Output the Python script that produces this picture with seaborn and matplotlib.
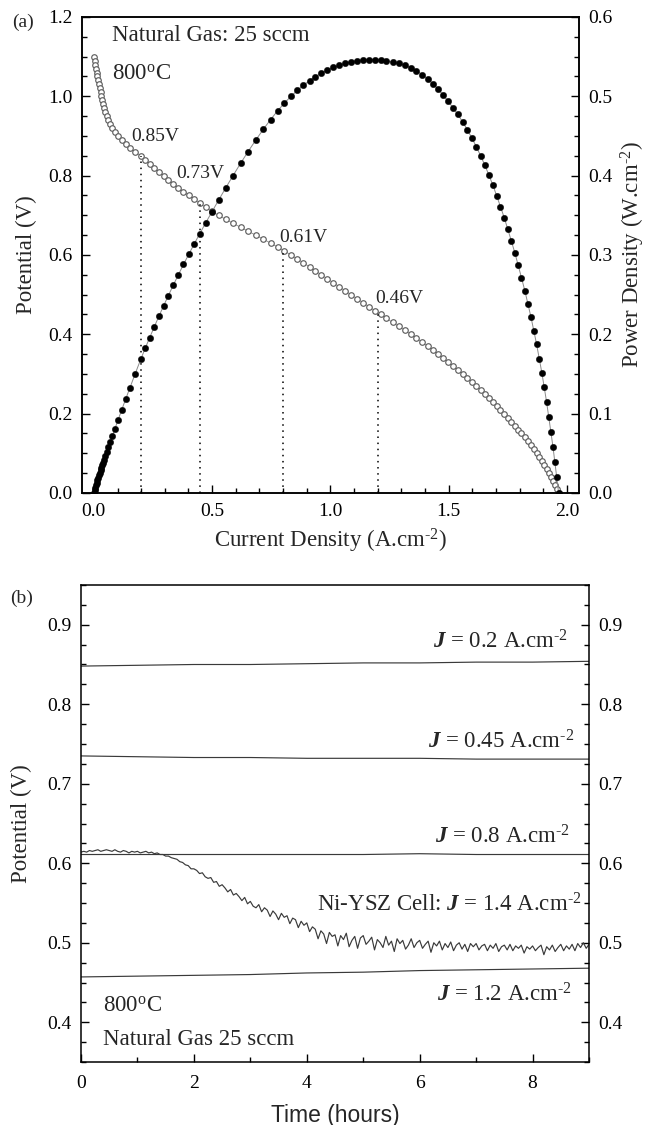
import matplotlib
matplotlib.use("Agg")
import numpy as np
import matplotlib.pyplot as plt
from matplotlib.ticker import MultipleLocator, FormatStrFormatter
import seaborn as sns

# ---- panel (a): I-V curve, potential stepped down, current read at each step
potential = [
    1.10, 1.09, 1.08, 1.07, 1.06, 1.05, 1.04, 1.03, 1.02, 1.01,
    1.00, 0.99, 0.98, 0.97, 0.96, 0.95, 0.94, 0.93, 0.92, 0.91,
    0.90, 0.89, 0.88, 0.87, 0.86, 0.85, 0.84, 0.83, 0.82, 0.81,
    0.80, 0.79, 0.78, 0.77, 0.76, 0.75, 0.74, 0.73, 0.72, 0.71,
    0.70, 0.69, 0.68, 0.67, 0.66, 0.65, 0.64, 0.63, 0.62, 0.61,
    0.60, 0.59, 0.58, 0.57, 0.56, 0.55, 0.54, 0.53, 0.52, 0.51,
    0.50, 0.49, 0.48, 0.47, 0.46, 0.45, 0.44, 0.43, 0.42, 0.41,
    0.40, 0.39, 0.38, 0.37, 0.36, 0.35, 0.34, 0.33, 0.32, 0.31,
    0.30, 0.29, 0.28, 0.27, 0.26, 0.25, 0.24, 0.23, 0.22, 0.21,
    0.20, 0.19, 0.18, 0.17, 0.16, 0.15, 0.14, 0.13, 0.12, 0.11,
    0.10, 0.09, 0.08, 0.07, 0.06, 0.05, 0.04, 0.03, 0.02, 0.01,
    0.00,
]
current_density = [
    0.000, 0.003, 0.006, 0.009, 0.012, 0.015, 0.018, 0.022, 0.025, 0.029,
    0.032, 0.035, 0.039, 0.043, 0.048, 0.054, 0.061, 0.069, 0.078, 0.089,
    0.102, 0.117, 0.134, 0.152, 0.175, 0.198, 0.217, 0.236, 0.255, 0.275,
    0.295, 0.315, 0.336, 0.357, 0.379, 0.401, 0.424, 0.448, 0.473, 0.499,
    0.527, 0.557, 0.588, 0.620, 0.652, 0.684, 0.716, 0.747, 0.777, 0.806,
    0.833, 0.860, 0.886, 0.912, 0.937, 0.962, 0.987, 1.012, 1.037, 1.062,
    1.087, 1.112, 1.137, 1.162, 1.187, 1.212, 1.237, 1.263, 1.289, 1.315,
    1.340, 1.364, 1.388, 1.411, 1.433, 1.455, 1.476, 1.497, 1.518, 1.539,
    1.559, 1.579, 1.598, 1.617, 1.635, 1.653, 1.670, 1.687, 1.703, 1.719,
    1.735, 1.750, 1.765, 1.780, 1.794, 1.808, 1.822, 1.835, 1.848, 1.860,
    1.872, 1.883, 1.894, 1.904, 1.914, 1.923, 1.932, 1.941, 1.949, 1.957,
    1.965,
]
# power density P = J * V
power_density = np.array(current_density) * np.array(potential)

marked_current = [0.2, 0.45, 0.8, 1.2]
marked_potential = [0.85, 0.73, 0.61, 0.46]
marked_labels = ["0.85V", "0.73V", "0.61V", "0.46V"]
label_offsets = [(-10, 15), (-24, 25), (-4, 9), (-2, 8)]  # pixels

# ---- panel (b): potential vs time at fixed current density
flat_hours = [0, 1, 2, 3, 4, 5, 6, 7, 8, 9]
v_j02 = [0.848, 0.849, 0.850, 0.850, 0.851, 0.852, 0.852, 0.853, 0.853, 0.854]
v_j045 = [0.735, 0.734, 0.733, 0.733, 0.732, 0.732, 0.732, 0.731, 0.731, 0.731]
v_j08 = [0.611, 0.611, 0.611, 0.611, 0.611, 0.611, 0.612, 0.611, 0.611, 0.611]
v_j12 = [0.457, 0.458, 0.459, 0.460, 0.462, 0.463, 0.465, 0.466, 0.467, 0.468]

ni_hours = [
    0.00, 0.05, 0.10, 0.15, 0.20, 0.25, 0.30, 0.35, 0.40, 0.45,
    0.50, 0.55, 0.60, 0.65, 0.70, 0.75, 0.80, 0.85, 0.90, 0.95,
    1.00, 1.05, 1.10, 1.15, 1.20, 1.25, 1.30, 1.35, 1.40, 1.45,
    1.50, 1.55, 1.60, 1.65, 1.70, 1.75, 1.80, 1.85, 1.90, 1.95,
    2.00, 2.05, 2.10, 2.15, 2.20, 2.25, 2.30, 2.35, 2.40, 2.45,
    2.50, 2.55, 2.60, 2.65, 2.70, 2.75, 2.80, 2.85, 2.90, 2.95,
    3.00, 3.05, 3.10, 3.15, 3.20, 3.25, 3.30, 3.35, 3.40, 3.45,
    3.50, 3.55, 3.60, 3.65, 3.70, 3.75, 3.80, 3.85, 3.90, 3.95,
    4.00, 4.05, 4.10, 4.15, 4.20, 4.25, 4.30, 4.35, 4.40, 4.45,
    4.50, 4.55, 4.60, 4.65, 4.70, 4.75, 4.80, 4.85, 4.90, 4.95,
    5.00, 5.05, 5.10, 5.15, 5.20, 5.25, 5.30, 5.35, 5.40, 5.45,
    5.50, 5.55, 5.60, 5.65, 5.70, 5.75, 5.80, 5.85, 5.90, 5.95,
    6.00, 6.05, 6.10, 6.15, 6.20, 6.25, 6.30, 6.35, 6.40, 6.45,
    6.50, 6.55, 6.60, 6.65, 6.70, 6.75, 6.80, 6.85, 6.90, 6.95,
    7.00, 7.05, 7.10, 7.15, 7.20, 7.25, 7.30, 7.35, 7.40, 7.45,
    7.50, 7.55, 7.60, 7.65, 7.70, 7.75, 7.80, 7.85, 7.90, 7.95,
    8.00, 8.05, 8.10, 8.15, 8.20, 8.25, 8.30, 8.35, 8.40, 8.45,
    8.50, 8.55, 8.60, 8.65, 8.70, 8.75, 8.80, 8.85, 8.90, 8.95,
    9.00,
]
ni_ysz_v = [
    0.614, 0.615, 0.614, 0.616, 0.615, 0.616, 0.617, 0.615, 0.616, 0.617,
    0.616, 0.615, 0.617, 0.615, 0.614, 0.616, 0.615, 0.613, 0.615, 0.614,
    0.615, 0.613, 0.614, 0.615, 0.613, 0.614, 0.612, 0.613, 0.611, 0.611,
    0.609, 0.609, 0.607, 0.606, 0.605, 0.602, 0.601, 0.598, 0.597, 0.593,
    0.593, 0.591, 0.587, 0.588, 0.583, 0.581, 0.582, 0.576, 0.577, 0.571,
    0.573, 0.569, 0.564, 0.567, 0.560, 0.562, 0.558, 0.553, 0.557, 0.549,
    0.552, 0.546, 0.544, 0.548, 0.539, 0.544, 0.541, 0.533, 0.540, 0.536,
    0.529, 0.537, 0.532, 0.534, 0.524, 0.531, 0.529, 0.519, 0.527, 0.522,
    0.525, 0.514, 0.520, 0.517, 0.505, 0.515, 0.511, 0.499, 0.513, 0.508,
    0.510, 0.496, 0.509, 0.504, 0.512, 0.495, 0.503, 0.508, 0.493, 0.506,
    0.509, 0.498, 0.502, 0.507, 0.491, 0.504, 0.500, 0.494, 0.508, 0.497,
    0.502, 0.489, 0.505, 0.499, 0.503, 0.492, 0.497, 0.505, 0.494, 0.500,
    0.503, 0.493, 0.498, 0.502, 0.488, 0.500, 0.496, 0.502, 0.491, 0.499,
    0.494, 0.501, 0.490, 0.497, 0.500, 0.492, 0.498, 0.489, 0.499, 0.495,
    0.499, 0.491, 0.496, 0.498, 0.490, 0.497, 0.493, 0.499, 0.489, 0.495,
    0.497, 0.491, 0.498, 0.490, 0.496, 0.493, 0.497, 0.487, 0.495, 0.492,
    0.496, 0.490, 0.494, 0.497, 0.485, 0.495, 0.491, 0.497, 0.489, 0.494,
    0.498, 0.490, 0.496, 0.492, 0.498, 0.490, 0.499, 0.494, 0.500, 0.493,
    0.498,
]

sns.set_theme(style="ticks")
plt.rcParams["font.family"] = ["Liberation Serif", "DejaVu Serif"]
plt.rcParams["mathtext.fontset"] = "custom"
plt.rcParams["mathtext.rm"] = "Liberation Serif"
plt.rcParams["mathtext.it"] = "Liberation Serif:italic:bold"
plt.rcParams["mathtext.bf"] = "Liberation Serif:bold"
plt.rcParams["axes.linewidth"] = 1.1
plt.rcParams["xtick.direction"] = "in"
plt.rcParams["ytick.direction"] = "in"

TICK_FS = 14
LABEL_FS = 16.5
SUP = r"$^{\text{-}2}$"

fig = plt.figure(figsize=(6.51, 11.25), dpi=100)
ax = fig.add_axes([0.126, 0.5618, 0.763, 0.4231])
ax2 = ax.twinx()


def style_ticks(a, left=True, right=False, labelright=False):
    a.tick_params(which="both", direction="in", width=1.0, colors="black",
                  top=False, bottom=True, left=left, right=right,
                  labelleft=left, labelright=labelright, labelsize=TICK_FS)
    a.tick_params(which="major", length=6, pad=7)
    a.tick_params(which="minor", length=3.5)
    for s in a.spines.values():
        s.set_color("black")
        s.set_linewidth(1.1)


# potential (open circles)
sns.lineplot(x=current_density, y=potential, ax=ax, sort=False, estimator=None,
             color="#8a8a8a", linewidth=0.6, marker="o", markersize=4.0,
             markerfacecolor="white", markeredgecolor="#5f5f5f",
             markeredgewidth=0.85)
# power density (filled circles)
sns.lineplot(x=current_density, y=power_density, ax=ax2, sort=False,
             estimator=None, color="#8a8a8a", linewidth=0.7, marker="o",
             markersize=4.6, markerfacecolor="black", markeredgecolor="black",
             markeredgewidth=0.3)

ax.vlines(marked_current, 0, marked_potential, colors="black",
          linestyles=(0, (1, 3)), linewidth=1.1)
for xc, yv, lab, off in zip(marked_current, marked_potential, marked_labels,
                            label_offsets):
    ax.annotate(lab, (xc, yv), xytext=off, textcoords="offset pixels",
                ha="left", va="baseline", fontsize=14)

ax.set_xlim(-0.05, 2.05)
ax.set_ylim(0, 1.2)
ax2.set_ylim(0, 0.6)
ax.xaxis.set_major_locator(MultipleLocator(0.5))
ax.xaxis.set_minor_locator(MultipleLocator(0.1))
ax.yaxis.set_major_locator(MultipleLocator(0.2))
ax.yaxis.set_minor_locator(MultipleLocator(0.05))
ax2.yaxis.set_major_locator(MultipleLocator(0.1))
ax2.yaxis.set_minor_locator(MultipleLocator(0.025))
ax.xaxis.set_major_formatter(FormatStrFormatter("%.1f"))
ax.yaxis.set_major_formatter(FormatStrFormatter("%.1f"))
ax2.yaxis.set_major_formatter(FormatStrFormatter("%.1f"))
style_ticks(ax)
style_ticks(ax2, left=False, right=True, labelright=True)

ax.set_xlabel("Current Density (A.cm" + SUP + ")", fontsize=LABEL_FS,
              labelpad=5)
ax.set_ylabel("Potential (V)", fontsize=LABEL_FS, labelpad=8)
ax2.set_ylabel("Power Density (W.cm" + SUP + ")", fontsize=LABEL_FS,
               labelpad=4, rotation=90)
ax.text(0.060, 0.950, "Natural Gas: 25 sccm", transform=ax.transAxes,
        fontsize=LABEL_FS, va="baseline")
ax.text(0.060, 0.868, r"800$^{\mathrm{o}}$C", transform=ax.transAxes,
        fontsize=LABEL_FS, va="baseline")

# ---- panel (b)
bx = fig.add_axes([0.1244, 0.056, 0.7804, 0.424])
line_kw = dict(color="#3a3a3a", linewidth=0.85, sort=False, estimator=None)
for vals in (v_j02, v_j045, v_j08, v_j12):
    sns.lineplot(x=flat_hours, y=vals, ax=bx, **line_kw)
sns.lineplot(x=ni_hours, y=ni_ysz_v, ax=bx, **line_kw)

bx.set_xlim(0, 9)
bx.set_ylim(0.35, 0.95)
bx.xaxis.set_major_locator(MultipleLocator(2))
bx.xaxis.set_minor_locator(MultipleLocator(1))
bx.yaxis.set_major_locator(MultipleLocator(0.1))
bx.yaxis.set_minor_locator(MultipleLocator(0.025))
bx.yaxis.set_major_formatter(FormatStrFormatter("%.1f"))
style_ticks(bx, left=True, right=True, labelright=True)
bx.tick_params(axis="x", pad=9)

bx.set_xlabel("Time (hours)", fontsize=LABEL_FS, family="Liberation Sans",
              labelpad=9)
bx.set_ylabel("Potential (V)", fontsize=LABEL_FS, labelpad=11)

j_texts = [
    (0.959, 0.866, r"$J$ = 0.2 A.cm" + SUP),
    (0.972, 0.658, r"$J$ = 0.45 A.cm" + SUP),
    (0.963, 0.4585, r"$J$ = 0.8 A.cm" + SUP),
    (0.986, 0.315, r"Ni-YSZ Cell: $J$ = 1.4 A.cm" + SUP),
    (0.967, 0.126, r"$J$ = 1.2 A.cm" + SUP),
]
for tx, ty, s in j_texts:
    bx.text(tx, ty, s, transform=bx.transAxes, ha="right", va="baseline",
            fontsize=LABEL_FS)
bx.text(0.043, 0.105, r"800$^{\mathrm{o}}$C", transform=bx.transAxes,
        fontsize=LABEL_FS, va="baseline")
bx.text(0.043, 0.036, "Natural Gas 25 sccm", transform=bx.transAxes,
        fontsize=LABEL_FS, va="baseline")

fig.text(0.018, 0.976, "(a)", fontsize=14, va="baseline")
fig.text(0.016, 0.464, "(b)", fontsize=14, va="baseline")

fig.savefig("out.png", dpi=100)
